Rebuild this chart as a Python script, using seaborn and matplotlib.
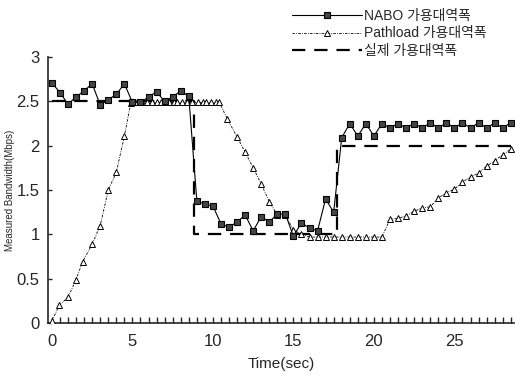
import numpy as np
import pandas as pd
import matplotlib
matplotlib.use("Agg")
import matplotlib.pyplot as plt
import seaborn as sns

# ---- data ----
nabo_t = [0, 0.5, 1.0, 1.5, 2.0, 2.5, 3.0, 3.5, 4.0, 4.5, 5.0, 5.5, 6.0, 6.5, 7.0, 7.5, 8.0, 8.5,
          9.0, 9.5, 10.0, 10.5, 11.0, 11.5, 12.0, 12.5, 13.0, 13.5, 14.0, 14.5, 15.0, 15.5, 16.0,
          16.5, 17.0, 17.5, 18.0, 18.5, 19.0, 19.5, 20.0, 20.5, 21.0, 21.5, 22.0, 22.5, 23.0, 23.5,
          24.0, 24.5, 25.0, 25.5, 26.0, 26.5, 27.0, 27.5, 28.0, 28.5]
nabo_v = [2.71, 2.60, 2.47, 2.55, 2.62, 2.70, 2.46, 2.52, 2.58, 2.70, 2.49, 2.49, 2.55, 2.61, 2.50,
          2.55, 2.62, 2.56, 1.38, 1.34, 1.32, 1.12, 1.08, 1.14, 1.22, 1.04, 1.20, 1.14, 1.23, 1.23,
          0.98, 1.13, 1.07, 1.04, 1.40, 1.25, 2.09, 2.25, 2.11, 2.25, 2.11, 2.25, 2.20, 2.25, 2.20,
          2.25, 2.20, 2.26, 2.20, 2.26, 2.20, 2.26, 2.20, 2.26, 2.20, 2.26, 2.20, 2.26]

path_t = [0, 0.45, 1.0, 1.5, 1.9, 2.5, 3.0, 3.5, 4.0, 4.5, 4.9, 5.3, 5.6, 5.9, 6.2, 6.5, 6.8, 7.0,
          7.3, 7.6, 7.8, 8.1, 8.4, 8.7, 9.1, 9.4, 9.6, 9.9, 10.2, 10.4, 10.9, 11.5, 12.0, 12.5, 13.0,
          13.5, 14.0, 14.5, 15.0, 15.5, 16.0, 16.5, 17.0, 17.5, 18.0, 18.5, 19.0, 19.5, 20.0, 20.5,
          21.0, 21.5, 22.0, 22.5, 23.0, 23.5, 24.0, 24.5, 25.0, 25.5, 26.0, 26.5, 27.0, 27.5, 28.0,
          28.5]
path_v = [0.02, 0.20, 0.29, 0.49, 0.69, 0.89, 1.10, 1.50, 1.70, 2.11, 2.48, 2.49, 2.49, 2.49, 2.49,
          2.49, 2.49, 2.49, 2.49, 2.49, 2.49, 2.49, 2.49, 2.49, 2.49, 2.49, 2.49, 2.49, 2.49, 2.49,
          2.30, 2.10, 1.93, 1.75, 1.57, 1.37, 1.22, 1.22, 1.05, 1.00, 0.97, 0.97, 0.97, 0.97, 0.97,
          0.97, 0.97, 0.97, 0.97, 0.97, 1.17, 1.18, 1.21, 1.26, 1.30, 1.31, 1.41, 1.47, 1.51, 1.59,
          1.65, 1.69, 1.77, 1.83, 1.90, 1.96]

real_t = [0, 8.8, 8.8, 17.7, 17.7, 28.5]
real_v = [2.5, 2.5, 1.0, 1.0, 2.0, 2.0]

labels = ["NABO 가용대역폭", "Pathload 가용대역폭", "실제 가용대역폭"]
xticks = [0, 5, 10, 15, 20, 25]
yticks = [0, 0.5, 1, 1.5, 2, 2.5, 3]
ytick_labels = ["0", "0.5", "1", "1.5", "2", "2.5", "3"]

sns.set_style("ticks")
plt.rcParams['font.family'] = ['Liberation Sans Narrow', 'Liberation Sans', 'Noto Sans CJK KR', 'DejaVu Sans']

fig = plt.figure(figsize=(5.15, 3.76), dpi=100)
ax = fig.add_axes([0.093, 0.141, 0.905, 0.707])

df_n = pd.DataFrame({"t": nabo_t, "v": nabo_v})
df_p = pd.DataFrame({"t": path_t, "v": path_v})
df_r = pd.DataFrame({"t": real_t, "v": real_v})

sns.lineplot(data=df_r, x="t", y="v", ax=ax, color="black", lw=1.6, sort=False,
             estimator=None, label=labels[2], zorder=2)
ax.lines[-1].set_dashes([6, 4])
sns.lineplot(data=df_p, x="t", y="v", ax=ax, color="black", lw=0.6, sort=False,
             estimator=None, marker="^", markersize=5, markerfacecolor="white",
             markeredgecolor="black", markeredgewidth=0.7, label=labels[1], zorder=3)
ax.lines[-1].set_dashes([3, 1.5, 1, 1.5])
sns.lineplot(data=df_n, x="t", y="v", ax=ax, color="black", lw=0.8, sort=False,
             estimator=None, marker="s", markersize=5, markerfacecolor="#444444",
             markeredgecolor="black", markeredgewidth=0.8, label=labels[0], zorder=4)

h, l = ax.get_legend_handles_labels()
if ax.get_legend() is not None:
    ax.get_legend().remove()

ax.set_xlim(-0.25, 28.7)
ax.set_ylim(0, 3)
ax.set_xticks(xticks)
ax.set_xticklabels([str(v) for v in xticks], fontsize=12)
ax.set_yticks(yticks)
ax.set_yticklabels(ytick_labels, fontsize=12)
ax.set_xticks(np.arange(0, 28.6, 0.5), minor=True)
ax.tick_params(axis="x", which="both", direction="in", length=4, width=1, pad=8)
ax.tick_params(axis="y", which="both", direction="in", length=3, width=1, pad=6)
sns.despine(ax=ax)
ax.spines["left"].set_linewidth(1.2)
ax.spines["bottom"].set_linewidth(1.2)

ax.set_xlabel("Time(sec)", fontsize=11, labelpad=6)
ax.set_ylabel("Measured Bandwidth(Mbps)", fontsize=7)
ax.yaxis.set_label_coords(-0.07, 0.5)

order = [l.index(s) for s in labels]
leg = fig.legend([h[i] for i in order], [l[i] for i in order], loc="upper left",
                 bbox_to_anchor=(0.55, 1.0), frameon=False,
                 handlelength=5.0, handletextpad=0.15, labelspacing=0.25, borderaxespad=0.25,
                 prop={'family': ['Liberation Sans Narrow', 'Liberation Sans', 'Noto Sans CJK KR', 'DejaVu Sans'], 'size': 10})

fig.savefig("out.png", dpi=100, facecolor="white")
